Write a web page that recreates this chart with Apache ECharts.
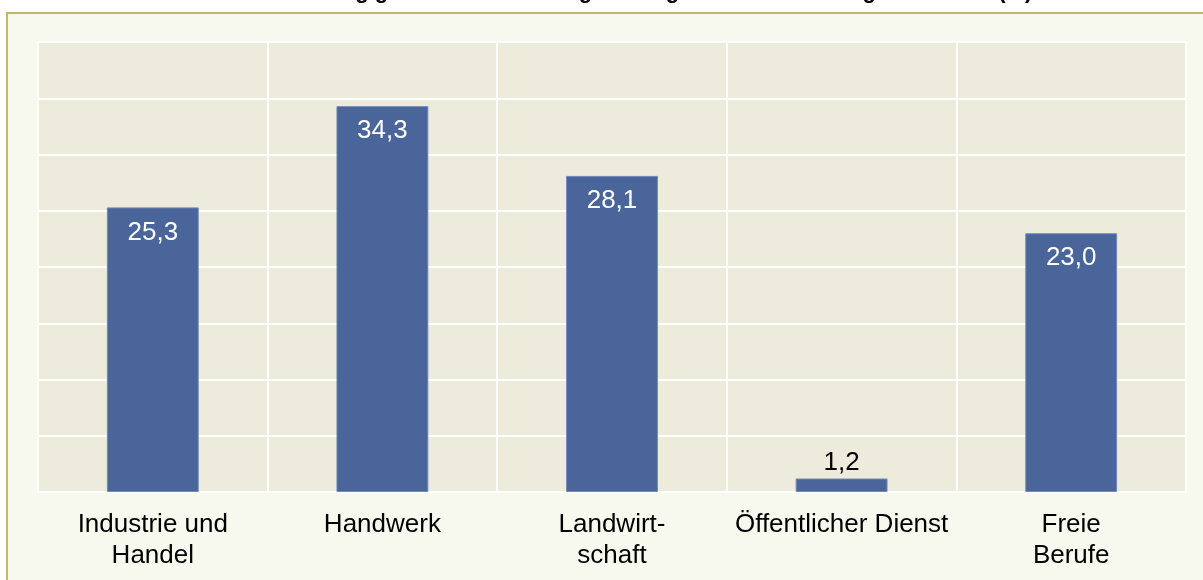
<!DOCTYPE html>
<html>
<head>
<meta charset="utf-8">
<script src="https://cdn.jsdelivr.net/npm/echarts@6/dist/echarts.min.js"></script>
<style>
  html, body { margin: 0; padding: 0; background: #ffffff; width: 1203px; height: 580px; overflow: hidden; }
  #frame { position: absolute; left: 6px; top: 12px; width: 1220px; height: 600px;
           background: #f8f9ee; border-left: 2px solid #c0b96c; border-top: 2px solid #c0b96c; }
  #chart { position: absolute; left: 0; top: 0; width: 1203px; height: 580px; }
</style>
</head>
<body>
<div id="frame"></div>
<div id="chart"></div>
<script>
const titleText = 'Anteil der vorzeitig gelösten Ausbildungsverträge nach Ausbildungsbereichen (%)';
const categories = ['Industrie und\nHandel', 'Handwerk', 'Landwirt-\nschaft', 'Öffentlicher Dienst', 'Freie\nBerufe'];
const values = [25.3, 34.3, 28.1, 1.2, 23.0];
const yMin = 0, yMax = 40, yInterval = 5;

const chart = echarts.init(document.getElementById('chart'), null, { renderer: 'canvas' });
const fmt = v => v.toFixed(1).replace('.', ',');

chart.setOption({
  backgroundColor: 'transparent',
  animation: false,
  title: {
    text: titleText,
    left: 'center',
    top: -24,
    textStyle: { fontFamily: 'Liberation Sans, Arial, sans-serif', fontSize: 22, fontWeight: 'bold', color: '#000', lineHeight: 22 }
  },
  grid: {
    left: 38, right: 17, top: 42, bottom: 88,
    show: true, backgroundColor: '#edebdb', borderColor: '#ffffff', borderWidth: 2
  },
  xAxis: {
    type: 'category',
    data: categories,
    axisLine: { show: true, lineStyle: { color: '#ffffff', width: 2 } },
    axisTick: { show: false },
    splitLine: { show: true, lineStyle: { color: '#ffffff', width: 2 } },
    axisLabel: {
      interval: 0, margin: 17, color: '#000',
      fontFamily: 'Liberation Sans, Arial, sans-serif', fontSize: 26, lineHeight: 31
    }
  },
  yAxis: {
    type: 'value', min: yMin, max: yMax, interval: yInterval,
    axisLine: { show: false }, axisTick: { show: false }, axisLabel: { show: false },
    splitLine: { show: true, lineStyle: { color: '#ffffff', width: 2 } }
  },
  series: [{
    type: 'bar',
    barWidth: '40%',
    data: values.map(v => v < 5
      ? { value: v, label: { position: 'top', color: '#000', distance: 3 } }
      : { value: v }),
    itemStyle: { color: '#4a6599', borderColor: '#7088b8', borderWidth: 1 },
    label: {
      show: true, position: 'insideTop', distance: 12, color: '#ffffff',
      fontFamily: 'Liberation Sans, Arial, sans-serif', fontSize: 26,
      formatter: p => fmt(p.value)
    }
  }]
});
</script>
</body>
</html>
